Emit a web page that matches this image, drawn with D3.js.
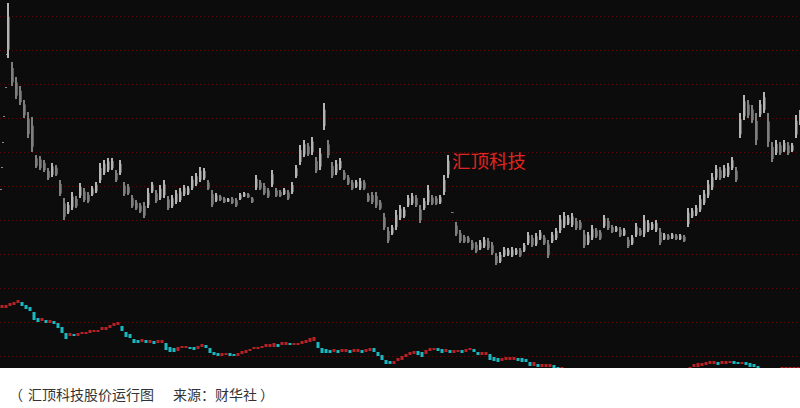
<!DOCTYPE html>
<html><head><meta charset="utf-8">
<script src="https://cdn.jsdelivr.net/npm/d3@7/dist/d3.min.js"></script>
<style>body{margin:0;background:#fff}svg{display:block}</style>
</head><body>
<script>
// main price series (high / low per bar)
const priceHigh = [176.5,147,139.5,135,128,122,119.5,100.5,100,98,94,96.5,95.5,88,79,77,82,80,86.5,84,82,85,87,96.5,98,99,99,93,98,87,86,80.5,78,76.5,77,84,87,83,85.5,88,80,80.5,83,84,85.5,85,90,91.5,94.5,94,88,83,81.5,80.5,79.5,79,79.5,79,81.5,82,81.5,79.5,90.5,88,86.5,84,93,84,83,84,83,87,95.5,105.5,108,106.5,109.5,99.5,104,126.5,108,97,98,99,93,90.5,88,88,89,88,81.5,82,82,78,71.5,64.5,65.5,73,75.5,74.5,80.5,81.5,80.5,75.5,79,85.5,80.5,80,80.5,90.5,100.5,72,67,63,60.5,60,58,57,58,59.5,59,57,51.5,52,54.5,54,54.5,54,54,56.5,62,60.5,61.5,63,60.5,58,62,64,70.5,72,70.5,71.5,69,68,63,62,65.5,64,63,70.5,69,65.5,65,64.5,64,59.5,60.5,66.5,64,70.5,68,67,68,64,61.5,61,61.5,61,61,60.5,74,74,75.5,80.5,83,88,91.5,95.5,94.5,95.5,96.5,99.5,94.5,121.5,130.5,128,125.5,121.5,128,132,121.5,107,108,107,108,107,106.5,120.5,123];
const priceLow = [149,135,128.5,125.5,119,109,102,94,93,92,88,89.5,90,80,68,71,73,74,79,77,76.5,80,81.5,86.5,90.5,92,93,87,90.5,80,80.5,74,73,71.5,69,74,81.5,76.5,78,79,73,74,76,77,80,80.5,83,85,87,88,83,74.5,77,77.5,76.5,77,76,74.5,78,79.5,79,76.5,83,83,80.5,79,84.5,79.5,79.5,80.5,78,81,89,95.5,99.5,100,100.5,91.5,93,113,99,89,90.5,93,88,85.5,83,84,83,83,77,76,74,73,63,56.5,60.5,63,68,69,74.5,75.5,74.5,66.5,73,75.5,75.5,75.5,76,80.5,89,71.5,60,56.5,56.5,56.5,53,51.5,53,54,53,50.5,45.5,46.5,49.5,50,49.5,50.5,49.5,52,55.5,54.5,55,58,55.5,49,56.5,58,61.5,64,65.5,64.5,63,63,54,55.5,58,59,58,64,63,61.5,62,59.5,60,54,55.5,59.5,60,59.5,62,63,62,55.5,58,58,58.5,58,58,57,64.5,69,70,72,75.5,79,83,88,88,89,89.5,93,87,109,118,119,116.5,105.5,119.5,121.5,104.5,97,100.5,100.5,102,100.5,102,109,115.5];
// lower indicator series (high / low per bar)
const lowerHigh = [63,63,65,66,68,66,63,61,56,50,50,48,48,47,45,41,35,35,34,35,36,36,38,38,38,41,41,43,45,46,42,36,34,29,28,29,28,28,27,28,28,25,21,20,21,22,22,21,21,22,24,23,20,16,15,15,15,15,14,15,17,18,19,21,21,22,24,24,25,24,26,26,25,25,25,27,28,30,31,26,20,19,18,19,18,19,19,18,19,19,18,19,20,20,16,13,8,7,7,10,12,14,16,17,17,16,18,20,20,20,19,19,18,18,18,18,19,20,19,16,16,16,14,11,10,10,11,11,11,10,10,9,6,6,4,4,4,4,3,1,1,-2,-4,-5,-6,-8,-7,-9,-10,-8,-7,-6,-4,-2,0,-3,-5,-7,-9,-11,-12,-13,-12,-10,-11,-9,-8,-6,-5,-4,-2,-1,1,4,5,5,6,7,7,6,7,7,7,7,6,6,6,5,4,2,-2,-4,-5,-3,-1,1,1,1,1,1];
const lowerLow = [60,60,62,63,65,62,59,57,48,46,47,45,45,44,40,35,29,32,32,32,34,34,35,36,36,38,38,40,42,43,37,31,30,25,25,26,25,25,24,25,25,18,16,16,17,20,20,19,18,19,21,20,15,13,12,12,13,12,12,12,14,15,17,19,19,20,21,21,21,21,23,23,23,23,23,24,25,26,27,20,15,15,15,16,15,16,16,15,16,16,15,16,17,16,12,8,4,4,4,7,8,11,13,14,13,11,14,17,18,17,15,16,15,15,16,15,16,18,16,13,13,13,8,7,6,7,8,8,8,7,6,6,2,2,1,1,1,1,0,-4,-3,-6,-8,-9,-10,-12,-11,-13,-14,-12,-11,-10,-8,-6,-3,-7,-9,-11,-13,-15,-16,-17,-16,-14,-15,-13,-12,-10,-9,-8,-6,-4,-2,1,1,2,3,4,4,3,4,4,5,4,4,4,3,1,1,-2,-5,-7,-8,-6,-4,-1,-1,-1,-1,-1];
const gridLevels = [0,17,34,51,68,85,102,119,136,153,170];
// small stray marks at the left edge (price level, horizontal pixel)
const edgeMarkLevels = [151,134.5,120,107,94.5,83.5];
const edgeMarkX = [6,5,3,2,1,0];
const labelText = "汇顶科技";
const captionParts = ["（", "汇顶科技股价运行图", "来源：财华社", "）"];

const W = 800, H = 408, plotBottom = 368;
const svg = d3.select("body").append("svg").attr("width", W).attr("height", H);
svg.append("rect").attr("width", W).attr("height", H).attr("fill", "#fff");
svg.append("rect").attr("width", W).attr("height", plotBottom).attr("fill", "#0c0c0c");
svg.append("clipPath").attr("id","clip").append("rect").attr("width", W).attr("height", plotBottom);

const x = d3.scaleLinear().domain([0, priceHigh.length - 1]).range([8, 800]);
const y = d3.scaleLinear().domain([0, 170]).range([356, 16]);
const x2 = d3.scaleLinear().domain([0, lowerHigh.length - 1]).range([2, 798]);
const y2 = d3.scaleLinear().domain([0, 80]).range([368, 288]);

const g = svg.append("g").attr("clip-path", "url(#clip)");

g.selectAll("line.grid").data(gridLevels).join("line")
  .attr("x1", 0).attr("x2", W)
  .attr("y1", d => Math.round(y(d)) + 0.5).attr("y2", d => Math.round(y(d)) + 0.5)
  .attr("stroke", "#5c0707").attr("stroke-width", 1).attr("stroke-dasharray", "1,3");

g.selectAll("rect.edge").data(edgeMarkLevels).join("rect")
  .attr("x", (d, i) => edgeMarkX[i]).attr("y", d => Math.round(y(d)))
  .attr("width", 2).attr("height", 1).attr("fill", "#8a8a8a");

const mainData = priceHigh.map((h, i) => ({i, h, l: priceLow[i]}));
g.selectAll("rect.bar").data(mainData).join("rect")
  .attr("x", d => x(d.i) - 1).attr("width", 2)
  .attr("y", d => y(d.h)).attr("height", d => Math.max(1, y(d.l) - y(d.h)))
  .attr("fill", (d, i) => (i === 0 || d.h + d.l >= mainData[i-1].h + mainData[i-1].l) ? "#b4b4b4" : "#7e7e7e");
g.selectAll("rect.wick").data(mainData).join("rect")
  .attr("x", d => x(d.i) + 1).attr("width", 1)
  .attr("y", d => y(d.h) + (y(d.l) - y(d.h)) * 0.25).attr("height", d => Math.max(1, (y(d.l) - y(d.h)) * 0.6))
  .attr("fill", "#5e5e5e");

const lowData = lowerHigh.map((h, i) => ({i, h, l: lowerLow[i]}));
g.selectAll("rect.low").data(lowData).join("rect")
  .attr("x", d => x2(d.i) - 1.5).attr("width", 3)
  .attr("y", d => y2(d.h)).attr("height", d => Math.max(1, y2(d.l) - y2(d.h)))
  .attr("fill", (d, i) => (i === 0 || d.h + d.l >= lowData[i-1].h + lowData[i-1].l) ? "#b82226" : "#1ab8c0");

svg.append("text").attr("x", 452).attr("y", 168)
  .attr("font-family", "'Noto Sans CJK SC', sans-serif").attr("font-size", 18.5)
  .attr("fill", "#e0241f").text(labelText);

const capX = [9, 28, 173, 260];
const cap = svg.append("text").attr("y", 400)
  .attr("font-family", "'Noto Sans CJK SC', sans-serif").attr("font-size", 14)
  .attr("fill", "#333");
cap.selectAll("tspan").data(captionParts).join("tspan")
  .attr("x", (d, i) => capX[i]).text(d => d);
</script>
</body></html>
